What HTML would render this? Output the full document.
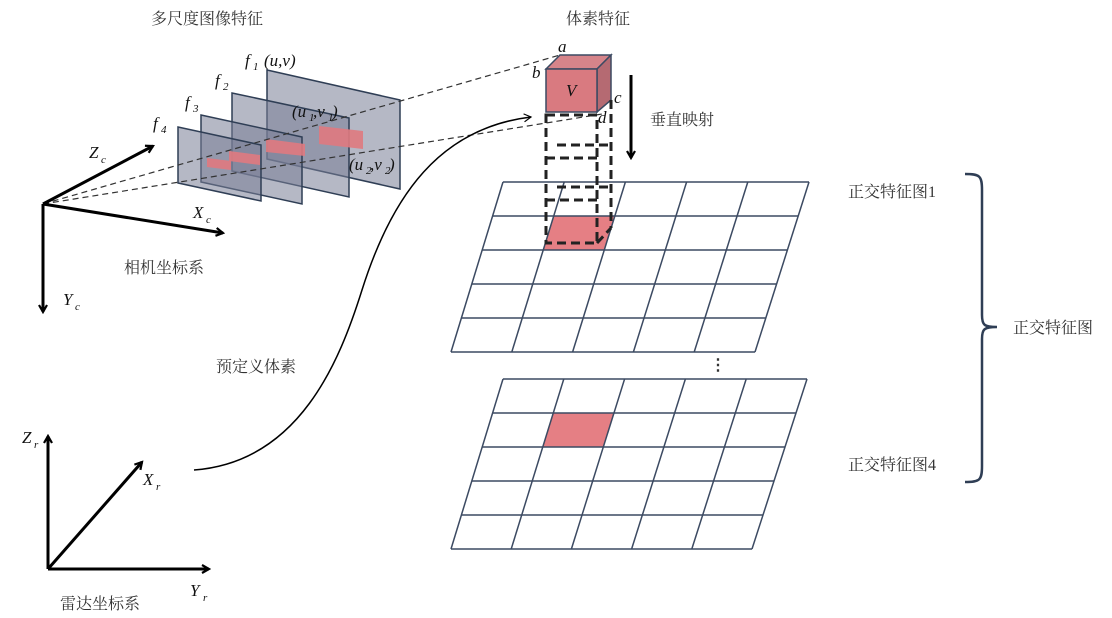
<!DOCTYPE html>
<html><head><meta charset="utf-8"><style>
body{margin:0;background:#fff}
svg{display:block}
.cn{font-family:"Liberation Serif","Noto Serif CJK SC",serif;font-size:16px;fill:#333}
.m{font-family:"Liberation Serif",serif;font-style:italic;font-size:17px;fill:#111}
.s{font-family:"Liberation Serif",serif;font-style:italic;font-size:11px;fill:#111}
</style></head><body>
<svg width="1112" height="618" viewBox="0 0 1112 618" xmlns="http://www.w3.org/2000/svg">
<defs>
<marker id="ah" markerWidth="10" markerHeight="10" refX="8" refY="5" orient="auto" markerUnits="userSpaceOnUse"><path d="M1,1 L8,5 L1,9" fill="none" stroke="#000" stroke-width="2.2"/></marker>
<marker id="ah2" markerWidth="10" markerHeight="10" refX="8" refY="5" orient="auto" markerUnits="userSpaceOnUse"><path d="M1,1 L8,5 L1,9" fill="none" stroke="#000" stroke-width="1.2"/></marker>
</defs>
<text class="cn" x="151" y="24">多尺度图像特征</text>
<text class="cn" x="566" y="24">体素特征</text>

<g stroke="#2f3e55" stroke-width="1.5" fill="rgba(120,125,150,0.55)">
<polygon points="267,70 400,100 400,189 267,159"/>
<polygon points="232,93 349,118 349,197 232,171"/>
<polygon points="201,115 302,137 302,204 201,182"/>
<polygon points="178,127 261,145 261,201 178,183"/>
</g>
<g fill="#e07a80" opacity="0.9">
<polygon points="319,126 363,131 363,149 319,144"/>
<polygon points="266,139 305,144 305,156 266,152"/>
<polygon points="229,151 260,155 260,165 229,161"/>
<polygon points="207,158 231,161 231,170 207,167"/>
</g>
<g stroke="#333" stroke-width="1.2" stroke-dasharray="6,4" fill="none">
<line x1="43" y1="204" x2="560" y2="55"/>
<line x1="43" y1="204" x2="602" y2="114"/>
</g>
<text class="m" x="245" y="66">f</text><text class="s" x="253" y="70">1</text>
<text class="m" x="264" y="66">(u,v)</text>
<text class="m" x="215" y="86">f</text><text class="s" x="223" y="90">2</text>
<text class="m" x="185" y="108">f</text><text class="s" x="193" y="112">3</text>
<text class="m" x="153" y="129">f</text><text class="s" x="161" y="133">4</text>
<text class="m" x="292" y="117">(u</text><text class="s" x="309" y="121">1</text><text class="m" x="313" y="117">,v</text><text class="s" x="328" y="121">1</text><text class="m" x="332" y="117">)</text>
<text class="m" x="349" y="170">(u</text><text class="s" x="366" y="174">2</text><text class="m" x="370" y="170">,v</text><text class="s" x="385" y="174">2</text><text class="m" x="389" y="170">)</text>

<g stroke="#000" stroke-width="3" fill="none">
<line x1="43" y1="204" x2="153" y2="146" marker-end="url(#ah)"/>
<line x1="43" y1="204" x2="223" y2="233" marker-end="url(#ah)"/>
<line x1="43" y1="204" x2="43" y2="312" marker-end="url(#ah)"/>
</g>
<text class="m" x="89" y="158">Z</text><text class="s" x="101" y="163">c</text>
<text class="m" x="193" y="218">X</text><text class="s" x="206" y="223">c</text>
<text class="m" x="63" y="305">Y</text><text class="s" x="75" y="310">c</text>
<text class="cn" x="124" y="273">相机坐标系</text>

<g stroke="#000" stroke-width="3" fill="none">
<line x1="48" y1="569" x2="48" y2="436" marker-end="url(#ah)"/>
<line x1="48" y1="569" x2="142" y2="462" marker-end="url(#ah)"/>
<line x1="48" y1="569" x2="209" y2="569" marker-end="url(#ah)"/>
</g>
<text class="m" x="22" y="443">Z</text><text class="s" x="34" y="448">r</text>
<text class="m" x="143" y="485">X</text><text class="s" x="156" y="490">r</text>
<text class="m" x="190" y="596">Y</text><text class="s" x="203" y="601">r</text>
<text class="cn" x="60" y="609">雷达坐标系</text>
<text class="cn" x="216" y="372">预定义体素</text>
<path d="M194,470 C300,462 340,360 362,290 C392,195 440,128 531,117" fill="none" stroke="#000" stroke-width="1.5" marker-end="url(#ah2)"/>

<g id="grids" stroke="#3c4a62" stroke-width="1.5" fill="none"></g>

<polygon points="546,69 560,55 611,55 597,69" fill="#d6848a" stroke="#3c4a62" stroke-width="1.5"/>
<polygon points="597,69 611,55 611,100 597,112" fill="#b56a72" stroke="#3c4a62" stroke-width="1.5"/>
<rect x="546" y="69" width="51" height="43" fill="#d97a80" stroke="#3c4a62" stroke-width="1.5"/>
<text class="m" x="566" y="96">V</text>
<text class="m" x="558" y="52">a</text>
<text class="m" x="532" y="78">b</text>
<text class="m" x="614" y="103">c</text>
<text class="m" x="598" y="123">d</text>
<g stroke="#222" stroke-width="3" stroke-dasharray="9,5" fill="none">
<rect x="546" y="115" width="51" height="128"/>
<line x1="546" y1="158" x2="597" y2="158"/>
<line x1="546" y1="200" x2="597" y2="200"/>
<line x1="611" y1="100" x2="611" y2="228"/>
<line x1="557" y1="145" x2="611" y2="145"/>
<line x1="557" y1="187" x2="611" y2="187"/>
<line x1="597" y1="243" x2="611" y2="228"/>
</g>
<line x1="631" y1="75" x2="631" y2="158" stroke="#000" stroke-width="3" marker-end="url(#ah)"/>
<text class="cn" x="650" y="125">垂直映射</text>
<text class="cn" x="710" y="370" style="font-weight:bold">⋮</text>

<text class="cn" x="848" y="197">正交特征图1</text>
<text class="cn" x="848" y="470">正交特征图4</text>
<text class="cn" x="1013" y="333">正交特征图</text>
<path d="M965,174 C980,174 982,176 982,190 L982,315 C982,325 984,327 997,327 C984,327 982,329 982,339 L982,466 C982,480 980,482 965,482" fill="none" stroke="#2f3e55" stroke-width="2.5"/>
</svg>
<script>
(function(){
var g=document.getElementById('grids'),ns='http://www.w3.org/2000/svg';
function grid(TL,TR,BL,BR,red){
 function P(u,v){var lx=TL[0]+(BL[0]-TL[0])*v, rx=TR[0]+(BR[0]-TR[0])*v, y=TL[1]+(BL[1]-TL[1])*v;return [lx+(rx-lx)*u,y];}
 if(red){var r=red,a=P(r[0]/5,r[1]/5),b=P((r[0]+1)/5,r[1]/5),c=P((r[0]+1)/5,(r[1]+1)/5),d=P(r[0]/5,(r[1]+1)/5);
  var p=document.createElementNS(ns,'polygon');p.setAttribute('points',[a,b,c,d].map(function(q){return q.join(',')}).join(' '));p.setAttribute('fill','#e57f84');p.setAttribute('stroke','none');g.appendChild(p);}
 for(var i=0;i<=5;i++){var a=P(0,i/5),b=P(1,i/5),l=document.createElementNS(ns,'line');l.setAttribute('x1',a[0]);l.setAttribute('y1',a[1]);l.setAttribute('x2',b[0]);l.setAttribute('y2',b[1]);g.appendChild(l);
  a=P(i/5,0);b=P(i/5,1);l=document.createElementNS(ns,'line');l.setAttribute('x1',a[0]);l.setAttribute('y1',a[1]);l.setAttribute('x2',b[0]);l.setAttribute('y2',b[1]);g.appendChild(l);}
}
grid([503,182],[809,182],[451,352],[755,352],[1,1]);
grid([503,379],[807,379],[451,549],[752,549],[1,1]);
})();
</script>
</body></html>
